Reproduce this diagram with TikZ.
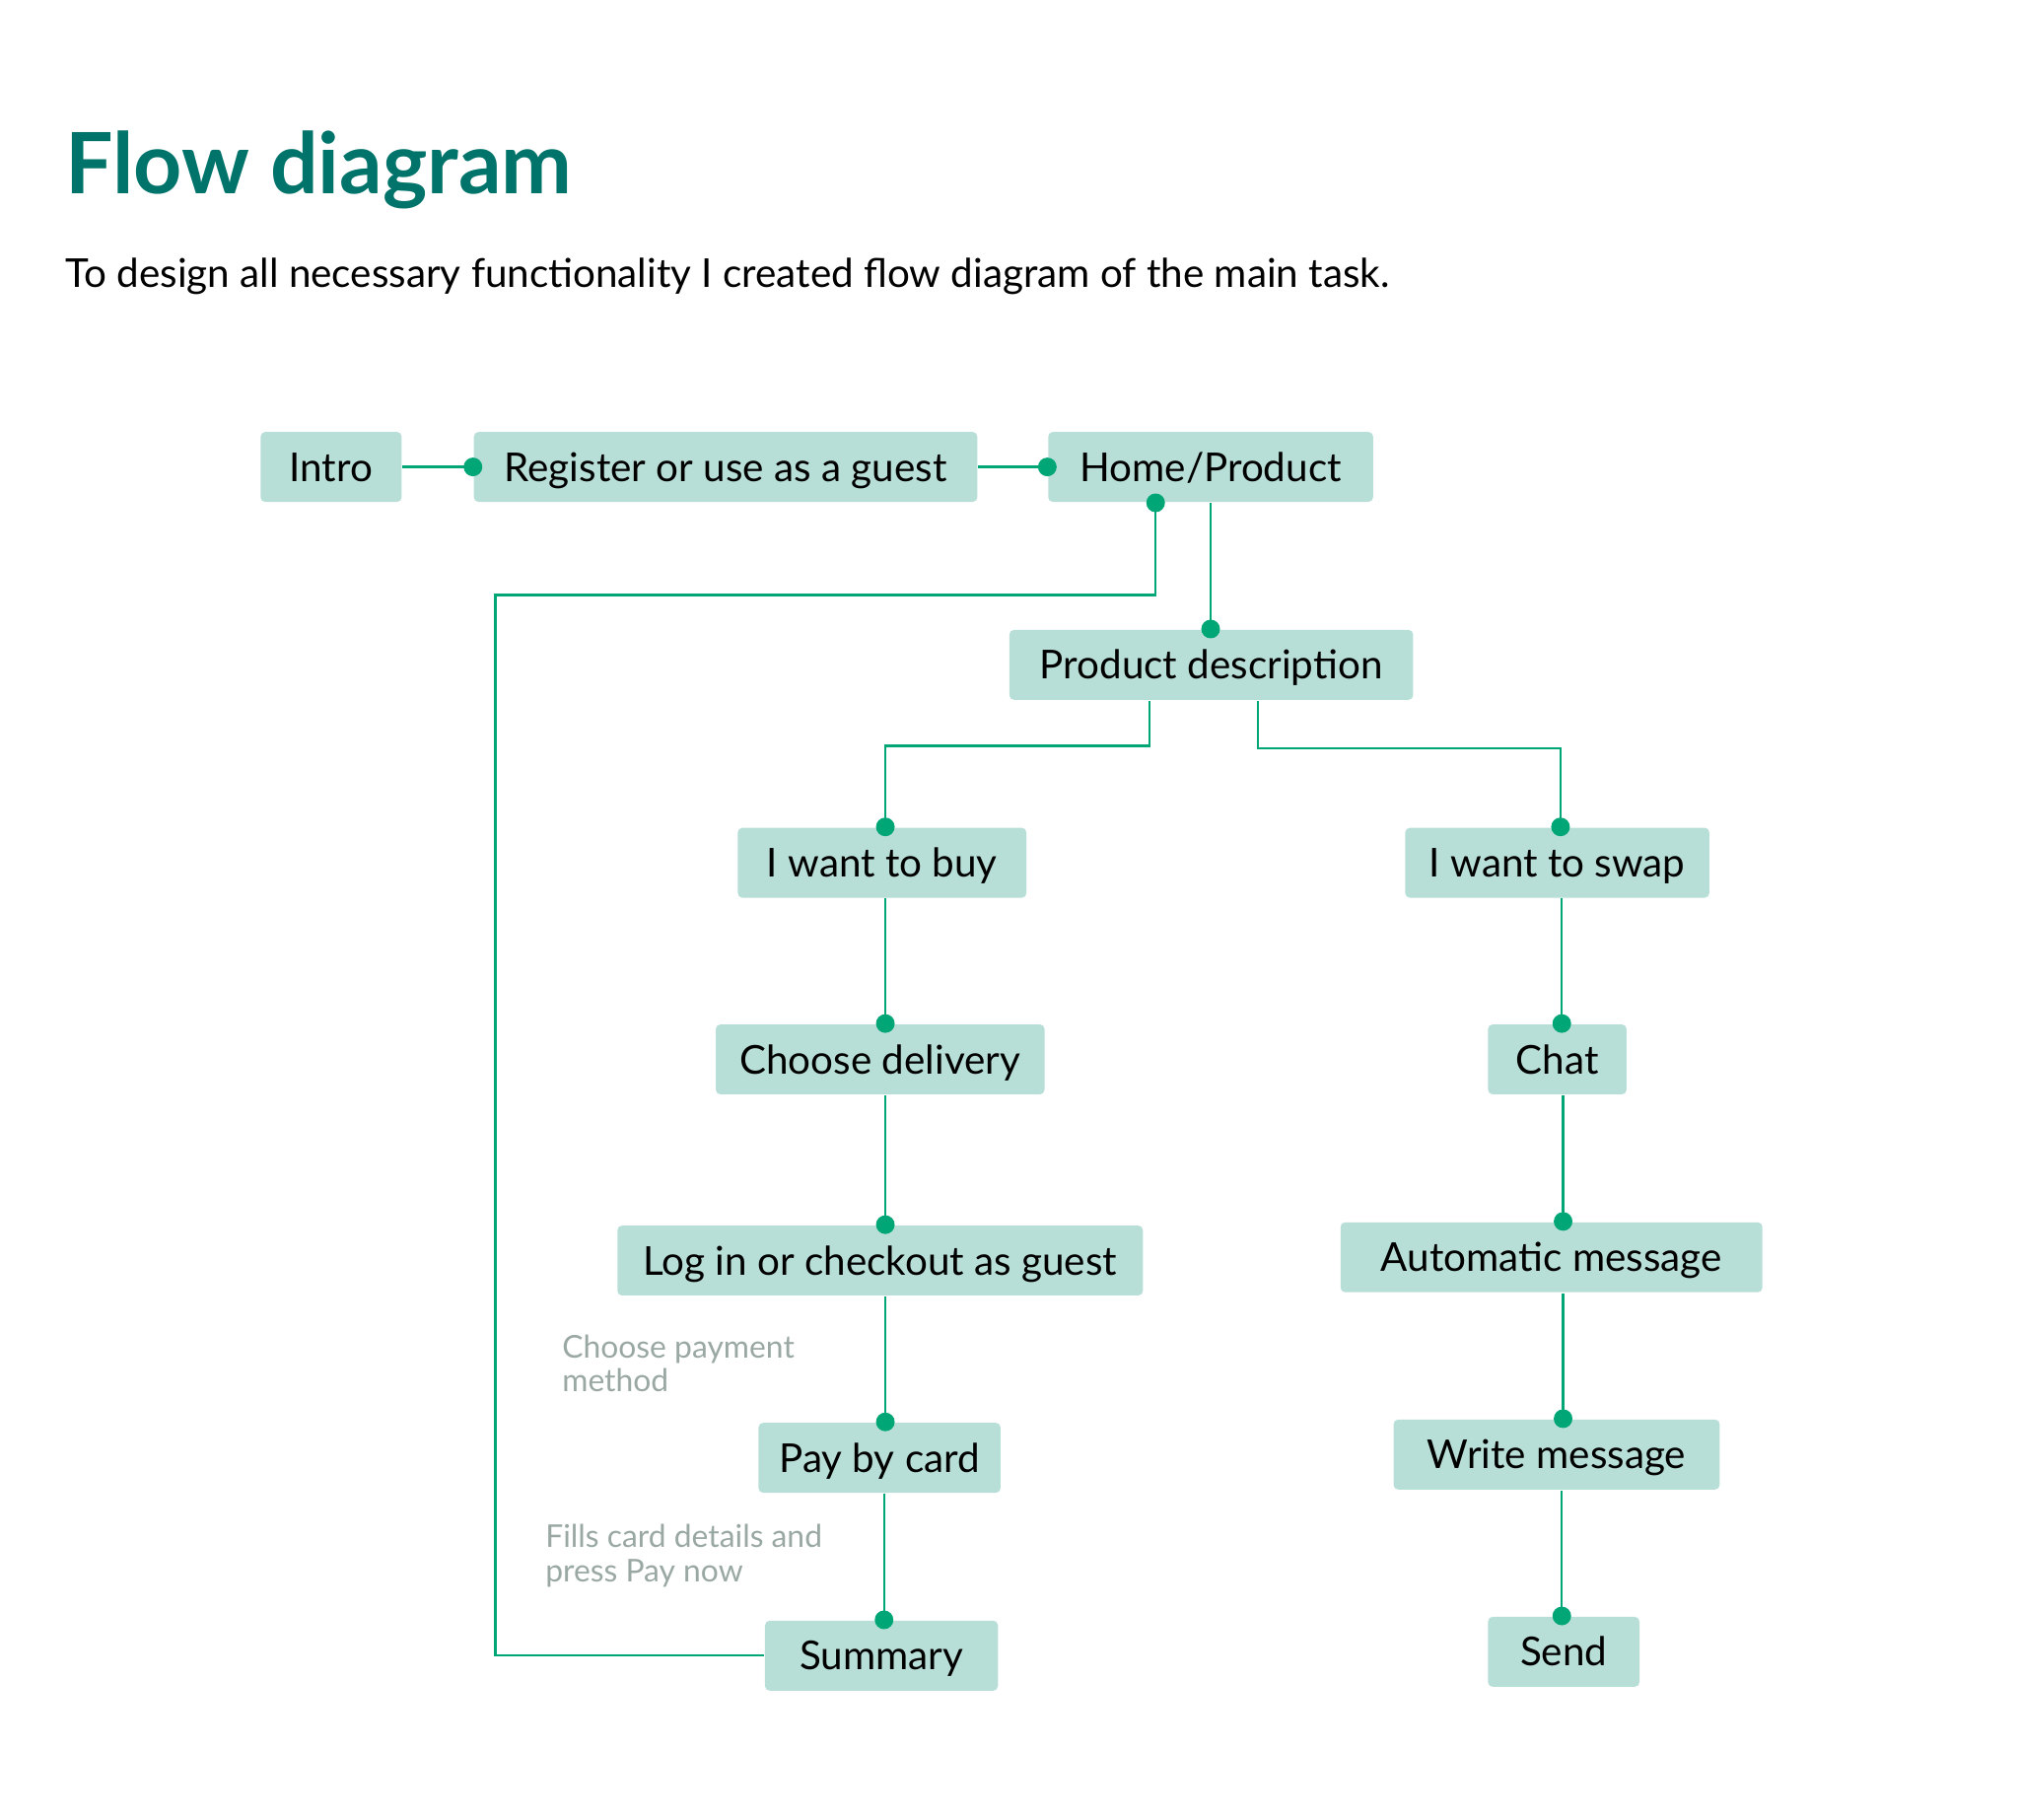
\documentclass[tikz,border=0pt]{standalone}
\usepackage{fontspec}
\setmainfont{Lato}
\usetikzlibrary{arrows.meta}
\definecolor{boxfill}{HTML}{B8DFD7}
\definecolor{linkc}{HTML}{00A676}
\definecolor{titlec}{HTML}{00736A}
\definecolor{notec}{HTML}{9AA8A3}
\tikzset{box/.style={fill=boxfill,rounded corners=1pt,minimum height=0.54cm,inner sep=0pt,text height=6.3pt,text depth=0pt,font=\fontsize{8.75}{10}\selectfont},
  link/.style={linkc,line width=0.5pt,-{Circle[length=4.1pt]},shorten >=-2.05pt},
  note/.style={notec,anchor=north west,inner sep=0pt,align=left,font=\fontsize{6.9}{7.4}\selectfont}}
\begin{document}
\begin{tikzpicture}[x=0.01cm,y=-0.01cm]
        \useasboundingbox(0,0)rectangle(1561,1407);
        \node[anchor=base west,inner sep=0pt,titlec,font=\fontsize{18.6}{20}\selectfont\bfseries](title)at(50,150){Flow diagram};
        \node[anchor=base west,inner sep=0pt,font=\fontsize{8.75}{10}\selectfont](sub)at(50,222){To design all necessary functionality I created flow diagram of the main task.};
        % top row
        \node[box,minimum width=1.09cm](intro)at(256,361){Intro};
        \node[box,minimum width=3.89cm](reg)at(561,361){Register or use as a guest};
        \node[box,minimum width=2.51cm](home)at(936,361){Home/Product};
        \node[box,minimum width=3.12cm](pd)at(936.5,514){Product description};
        % buy branch
        \node[box,minimum width=2.23cm](buy)at(682,667){I want to buy};
        \node[box,minimum width=2.54cm](deliv)at(680.5,819){Choose delivery};
        \node[box,minimum width=4.06cm](login)at(680.5,974.5){Log in or checkout as guest};
        \node[box,minimum width=1.87cm](pay)at(680,1127){Pay by card};
        \node[box,minimum width=1.80cm](summ)at(681.5,1280){Summary};
        % swap branch
        \node[box,minimum width=2.35cm](swap)at(1204,667){I want to swap};
        \node[box,minimum width=1.07cm](chat)at(1204,819){Chat};
        \node[box,minimum width=3.26cm](auto)at(1199.5,972){Automatic message};
        \node[box,minimum width=2.52cm](write)at(1203.5,1124.5){Write message};
        \node[box,minimum width=1.17cm](send)at(1209,1277){Send};
        \node[note](n1)at(434,1031){Choose payment\\method};
        \node[note](n2)at(421,1178){Fills card details and\\press Pay now};
        % connectors
        \draw[link](intro)--(reg.west);\draw[link](reg)--(home.west);
        \draw[link](home.south)--(home.south|-pd.north);
        \draw[link]([xshift=-4.8mm]pd.south)--++(0,35)-|([xshift=0.25mm]buy.north);
        \draw[link]([xshift=3.6mm]pd.south)--++(0,37)-|([xshift=0.25mm]swap.north);
        \draw[link]([xshift=0.25mm]buy.south)--([xshift=0.25mm]buy.south|-deliv.north);
        \draw[link]([xshift=0.4mm]deliv.south)--([xshift=0.4mm]deliv.south|-login.north);
        \draw[link]([xshift=0.4mm]login.south)--([xshift=0.4mm]login.south|-pay.north);
        \draw[link]([xshift=0.35mm]pay.south)--([xshift=0.35mm]pay.south|-summ.north);
        \draw[link](summ.west)-|(383,460)-|([xshift=-4.25mm]home.south);
        \draw[link]([xshift=0.35mm]swap.south)--([xshift=0.35mm]swap.south|-chat.north);
        \draw[link]([xshift=0.45mm]chat.south)--([xshift=0.45mm]chat.south|-auto.north);
        \draw[link]([xshift=0.9mm]auto.south)--([xshift=0.9mm]auto.south|-write.north);
        \draw[link]([xshift=0.4mm]write.south)--([xshift=0.4mm]write.south|-send.north);
\end{tikzpicture}
\end{document}
